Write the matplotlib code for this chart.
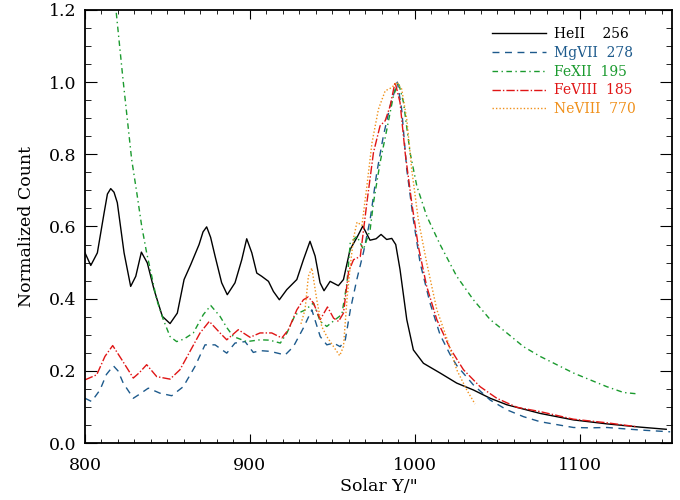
import numpy as np
import matplotlib
matplotlib.use("Agg")
from matplotlib import pyplot as plt
from matplotlib.ticker import MultipleLocator

plt.rcParams['font.family'] = ['DejaVu Serif']

# normalized intensity along the slit for each line
heii_x = [800, 803.5, 807.5, 811.6, 813.6, 815.6, 817.6, 819.6, 823.7, 827.7, 830.8, 834.2,
          837.8, 841.9, 846.9, 851.6, 856, 860.1, 864.1, 869.2, 871.6, 873.8, 876.2, 878.9,
          882.9, 886.3, 891, 895.1, 898.1, 901.2, 904.2, 907.2, 911.3, 914.3, 917.9, 922.4,
          928.5, 932.5, 936.5, 939.6, 942.6, 945, 948.7, 953.7, 956.8, 960.8, 964.9, 968.5,
          972.9, 976.6, 979.6, 983, 986.1, 988.5, 991.1, 995.2, 999.2, 1005.3, 1015.4, 1025.5,
          1035.6, 1045.8, 1055.9, 1076.1, 1096.3, 1116.6, 1136.8, 1152.6]
heii_y = [0.527, 0.492, 0.527, 0.638, 0.69, 0.705, 0.695, 0.666, 0.527, 0.434, 0.462, 0.529,
          0.499, 0.425, 0.351, 0.331, 0.360, 0.453, 0.494, 0.55, 0.585, 0.599, 0.57, 0.518,
          0.444, 0.411, 0.444, 0.508, 0.566, 0.527, 0.471, 0.462, 0.448, 0.42, 0.397, 0.425,
          0.453, 0.508, 0.559, 0.518, 0.444, 0.422, 0.448, 0.436, 0.453, 0.536, 0.569, 0.601,
          0.562, 0.566, 0.578, 0.564, 0.567, 0.55, 0.481, 0.342, 0.258, 0.221, 0.194, 0.166,
          0.147, 0.124, 0.106, 0.082, 0.064, 0.053, 0.044, 0.038]

mg_x = [800, 804, 809.1, 813, 817.2, 820, 823.2, 829.3, 833, 838.4, 845.5, 852.6, 859.6, 866.7,
        872.8, 878.9, 886, 891, 897.1, 902.1, 906.2, 912.3, 921.4, 926.4, 932.5, 937.6, 942.7,
        946.7, 950.8, 954.8, 957.9, 961, 965, 969, 973, 977, 981, 985.1, 989.5, 992.1, 995.2,
        999.2, 1003.3, 1009.3, 1015.4, 1021.5, 1025.5, 1035.6, 1045.8, 1055.9, 1066, 1076.1,
        1096.3, 1106.4, 1116.6, 1136.8, 1155]
mg_y = [0.124, 0.115, 0.147, 0.19, 0.214, 0.2, 0.166, 0.124, 0.135, 0.152, 0.138, 0.131, 0.156,
        0.212, 0.272, 0.272, 0.249, 0.277, 0.281, 0.251, 0.256, 0.254, 0.244, 0.267, 0.319,
        0.369, 0.295, 0.272, 0.277, 0.267, 0.286, 0.37, 0.455, 0.53, 0.62, 0.749, 0.851, 0.934,
        1.0, 0.925, 0.758, 0.619, 0.499, 0.388, 0.30, 0.245, 0.215, 0.161, 0.119, 0.092, 0.073,
        0.059, 0.043, 0.042, 0.043, 0.036, 0.031]

fe12_x = [813, 818.8, 823, 828.3, 831.4, 834.4, 837.4, 840.5, 843.5, 847.5, 851.6, 855.6, 860,
          865.7, 871.8, 876.3, 881.9, 886, 890, 898.1, 906.2, 912, 918.5, 922.5, 927.6, 933.7,
          938.6, 942.7, 946.7, 951.8, 955.8, 958.9, 960.9, 965, 968.9, 973, 975, 979, 983.1,
          987.1, 990.1, 993.2, 997.2, 1001.3, 1007.3, 1015.4, 1025.5, 1035.6, 1045.8, 1055.9,
          1066, 1076.1, 1086.2, 1096.3, 1106.4, 1116.6, 1126.7, 1135.5]
fe12_y = [1.46, 1.2, 1.01, 0.786, 0.694, 0.601, 0.527, 0.462, 0.397, 0.342, 0.295, 0.281, 0.288,
          0.305, 0.356, 0.381, 0.351, 0.32, 0.295, 0.281, 0.286, 0.285, 0.277, 0.305, 0.356,
          0.369, 0.388, 0.337, 0.323, 0.342, 0.356, 0.443, 0.555, 0.573, 0.536, 0.592, 0.666,
          0.777, 0.869, 0.962, 1.0, 0.944, 0.805, 0.712, 0.629, 0.55, 0.462, 0.397, 0.342,
          0.305, 0.267, 0.240, 0.217, 0.194, 0.175, 0.156, 0.140, 0.136]

fe8_x = [800, 807.1, 812.1, 816.8, 822.3, 829.3, 833, 837.4, 843.5, 851.6, 857.6, 863.7, 869.8,
         875.4, 881.9, 886, 893, 900.1, 906.2, 913.3, 919.4, 923.4, 928.5, 932.5, 935.5, 938.6,
         942.7, 947.1, 950.8, 953.8, 956.8, 959.9, 962.9, 967, 971, 975, 979, 982.1, 985.1,
         988.1, 991.1, 994.2, 998.2, 1002.2, 1007.3, 1013.4, 1021.5, 1029.6, 1039.7, 1049.8,
         1062, 1076.1, 1096.3, 1116.6, 1134.8]
fe8_y = [0.175, 0.189, 0.240, 0.270, 0.231, 0.180, 0.195, 0.217, 0.184, 0.177, 0.203, 0.254,
         0.305, 0.337, 0.305, 0.286, 0.314, 0.293, 0.305, 0.305, 0.291, 0.314, 0.369, 0.397,
         0.405, 0.388, 0.342, 0.377, 0.346, 0.337, 0.360, 0.475, 0.508, 0.517, 0.666, 0.805,
         0.879, 0.893, 0.934, 1.0, 0.944, 0.805, 0.666, 0.545, 0.434, 0.342, 0.262, 0.203,
         0.156, 0.124, 0.099, 0.087, 0.066, 0.056, 0.045]

ne8_x = [931, 933.5, 935.5, 937.6, 940.6, 943.6, 946.7, 950.8, 954.5, 956.8, 958.9, 960.9,
         962.9, 965, 968, 971, 974.1, 978, 982.1, 986.1, 989.1, 992.1, 995.2, 998.2, 1002.2,
         1007.3, 1013.4, 1019.5, 1025.5, 1031.6, 1036.6]
ne8_y = [0.33, 0.37, 0.462, 0.485, 0.397, 0.323, 0.295, 0.267, 0.242, 0.267, 0.397, 0.49,
         0.568, 0.612, 0.603, 0.712, 0.832, 0.925, 0.976, 0.985, 1.0, 0.981, 0.897, 0.758,
         0.619, 0.499, 0.37, 0.29, 0.203, 0.147, 0.108]

labels = ['HeII    256', 'MgVII  278', 'FeXII  195', 'FeVIII  185', 'NeVIII  770']

fig = plt.figure(figsize=(6.8, 5.0), dpi=100)
ax = fig.add_axes([0.125, 0.114, 0.863, 0.866])

ax.plot(heii_x, heii_y, color='black', lw=1.0, label=labels[0])
ax.plot(mg_x, mg_y, color='#1d5a8c', lw=1.0, ls=(0, (5, 4)), label=labels[1])
ax.plot(fe12_x, fe12_y, color='#1a9a2e', lw=1.0, ls=(0, (4, 2.5, 1, 2.5)), label=labels[2])
ax.plot(fe8_x, fe8_y, color='#e01515', lw=1.0, ls=(0, (6, 1.5, 1, 1.5)), label=labels[3])
ax.plot(ne8_x, ne8_y, color='#f0901a', lw=1.0, ls=(0, (1, 1.5)), label=labels[4])

ax.set_xlim(800, 1156)
ax.set_ylim(0, 1.2)
ax.xaxis.set_major_locator(MultipleLocator(100))
ax.xaxis.set_minor_locator(MultipleLocator(10))
ax.yaxis.set_major_locator(MultipleLocator(0.2))
ax.yaxis.set_minor_locator(MultipleLocator(0.05))
ax.yaxis.set_major_formatter(plt.FormatStrFormatter('%.1f'))
ax.tick_params(axis='x', which='major', direction='in', length=6.2, top=True, labelsize=12.5, pad=10)
ax.tick_params(axis='x', which='minor', direction='in', length=3.1, top=True)
ax.tick_params(axis='y', which='major', direction='in', length=8.3, right=True, labelsize=12.5, pad=6)
ax.tick_params(axis='y', which='minor', direction='in', length=4.2, right=True)
for s in ax.spines.values():
    s.set_linewidth(1.3)

ax.set_xlabel('Solar Y/"', fontsize=12.5, labelpad=3)
ax.set_ylabel('Normalized Count', fontsize=12.5, labelpad=10)

leg = ax.legend(loc='upper right', bbox_to_anchor=(0.96, 0.99), frameon=False, fontsize=10,
                handlelength=3.9, handletextpad=0.6, labelspacing=0.35, labelcolor='linecolor')

fig.savefig('out.png', dpi=100)
